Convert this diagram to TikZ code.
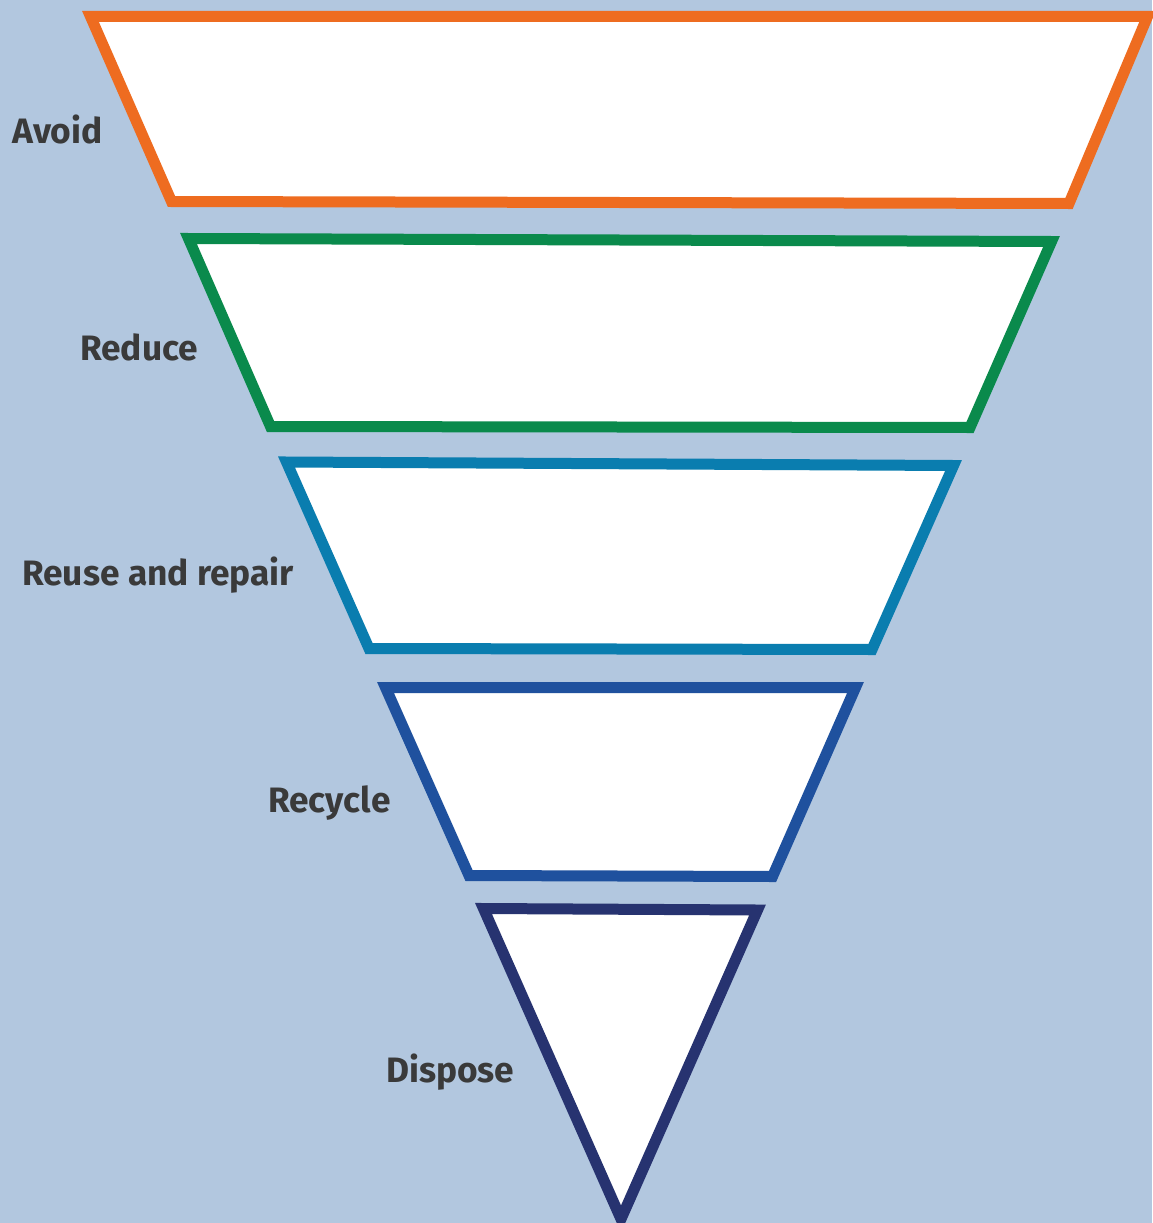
\documentclass[tikz,border=0pt]{standalone}
\usepackage{fontspec}
\setmainfont{Fira Sans}
\definecolor{bgc}{HTML}{B2C7DF}
\definecolor{cAvoid}{HTML}{EE6C20}
\definecolor{cReduce}{HTML}{0A8A4C}
\definecolor{cReuse}{HTML}{0A7DAF}
\definecolor{cRecycle}{HTML}{1F519E}
\definecolor{cDispose}{HTML}{273370}
\definecolor{txt}{HTML}{3A3A3A}
\begin{document}
\begin{tikzpicture}[x=1pt,y=-1pt,
  tier/.style={draw=#1,fill=white,line width=11pt,line join=miter},
  lbl/.style={anchor=base west,inner sep=0pt,text=txt,font=\fontsize{35.3}{40}\selectfont\bfseries}]
\fill[bgc] (0,0) rectangle (1152,1223);
\useasboundingbox (0,0) rectangle (1152,1223);
\draw[tier=cAvoid] (90.5,16.5) -- (1147.5,16.5) -- (1069,203.5) -- (171.5,201.5) -- cycle;
\draw[tier=cReduce] (188.5,238.5) -- (1051.5,241.5) -- (970,427.5) -- (270.5,426.5) -- cycle;
\draw[tier=cReuse] (286.5,462) -- (953.5,465.5) -- (872,649.5) -- (369,648.5) -- cycle;
\draw[tier=cRecycle] (385.5,687.5) -- (855.5,687.5) -- (772.5,876.5) -- (469,875.5) -- cycle;
\draw[tier=cDispose] (483.5,908.5) -- (757.5,910) -- (621,1219) -- cycle;
\node[lbl] (avoid) at (12,143) {Avoid};
\node[lbl] (reduce) at (80,360) {Reduce};
\node[lbl] (reuse) at (22,585) {Reuse and repair};
\node[lbl] (recycle) at (268,812) {Recycle};
\node[lbl] (dispose) at (386,1082) {Dispose};
\end{tikzpicture}
\end{document}
